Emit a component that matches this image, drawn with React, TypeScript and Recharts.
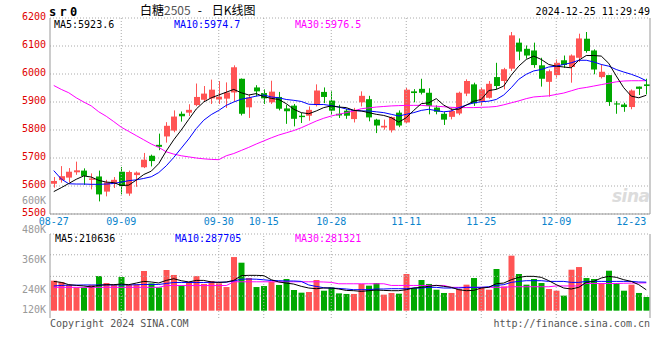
import React from 'react';
import { ComposedChart, Bar, Line, XAxis, YAxis, CartesianGrid, ReferenceLine, Cell } from 'recharts';

const dates = ['08-27','08-28','08-29','08-30','09-02','09-03','09-04','09-05','09-06','09-09','09-10','09-11','09-12','09-13','09-18','09-19','09-20','09-23','09-24','09-25','09-26','09-27','09-30','10-08','10-09','10-10','10-11','10-14','10-15','10-16','10-17','10-18','10-21','10-22','10-23','10-24','10-25','10-28','10-29','10-30','10-31','11-01','11-04','11-05','11-06','11-07','11-08','11-11','11-12','11-13','11-14','11-15','11-18','11-19','11-20','11-21','11-22','11-25','11-26','11-27','11-28','11-29','12-02','12-03','12-04','12-05','12-06','12-09','12-10','12-11','12-12','12-13','12-16','12-17','12-18','12-19','12-20','12-23','12-24','12-25'];

const opens = [5608,5621,5630,5649,5655,5622,5634,5580,5608,5651,5573,5639,5667,5708,5747,5777,5798,5858,5862,5889,5908,5913,5909,5912,5934,5983,5881,5952,5932,5899,5918,5877,5887,5851,5851,5889,5936,5905,5858,5869,5839,5899,5910,5837,5809,5799,5862,5827,5938,5947,5933,5880,5858,5847,5859,5930,5963,5903,5915,5989,5975,6019,6112,6090,6084,6031,5972,5996,6049,6025,6058,6126,6084,5989,5996,5895,5891,5882,5955,5963];
const highs = [5632,5671,5664,5687,5663,5645,5655,5622,5632,5668,5655,5652,5718,5712,5787,5828,5870,5866,5892,5966,5957,5980,5975,5970,6031,5984,5926,5960,5945,5976,5936,5890,5893,5861,5884,5963,5952,5938,5890,5876,5879,5938,5922,5840,5837,5848,5870,5950,5946,5983,5949,5888,5864,5880,5937,5981,5969,5951,5975,6040,6022,6150,6127,6102,6112,6058,6016,6052,6066,6070,6144,6150,6088,6034,5996,5903,5897,5945,5955,5983];
const lows = [5594,5612,5614,5640,5604,5588,5545,5563,5593,5570,5565,5597,5664,5670,5728,5755,5792,5830,5850,5885,5900,5893,5893,5879,5902,5852,5843,5920,5893,5893,5870,5822,5813,5825,5833,5884,5896,5855,5843,5840,5827,5884,5831,5789,5801,5791,5810,5825,5899,5927,5856,5856,5818,5838,5853,5921,5886,5888,5912,5945,5945,6011,6049,6055,6022,5955,5919,5987,6022,5969,6043,6076,5999,5984,5886,5858,5865,5874,5925,5927];
const closes = [5618,5635,5651,5656,5636,5627,5570,5613,5622,5600,5650,5648,5694,5689,5740,5815,5848,5849,5872,5918,5930,5944,5919,5934,6024,5858,5916,5938,5913,5937,5876,5867,5840,5846,5872,5941,5918,5869,5852,5851,5872,5922,5845,5816,5815,5846,5816,5944,5932,5933,5886,5865,5837,5868,5933,5975,5895,5945,5965,5957,6017,6138,6080,6066,6032,5983,6010,6040,6032,6066,6127,6082,6016,6008,5900,5891,5882,5941,5947,5957];

const ma5 = [5580,5594,5609,5624,5636,5632,5620,5614,5612,5602,5603,5621,5641,5653,5680,5725,5765,5800,5838,5875,5900,5915,5925,5935,5945,5933,5925,5930,5919,5913,5909,5894,5874,5862,5858,5868,5880,5886,5882,5880,5870,5868,5862,5856,5852,5844,5828,5844,5870,5894,5897,5912,5889,5874,5874,5889,5903,5909,5941,5945,5957,5996,6028,6052,6064,6052,6034,6028,6025,6022,6049,6066,6066,6064,6038,5993,5951,5921,5915,5924];
const ma10 = [5655,5625,5608,5607,5607,5606,5606,5607,5609,5614,5619,5622,5627,5633,5648,5672,5702,5735,5768,5805,5835,5855,5870,5888,5900,5910,5915,5921,5925,5918,5915,5909,5906,5902,5892,5891,5891,5887,5882,5875,5870,5868,5868,5865,5862,5856,5850,5856,5862,5870,5874,5869,5865,5868,5880,5889,5897,5901,5903,5909,5925,5951,5981,5999,6011,6016,6025,6028,6034,6040,6049,6049,6043,6034,6028,6016,6007,5999,5989,5976];
const ma30 = [5959,5945,5933,5915,5900,5886,5865,5849,5830,5810,5795,5780,5765,5750,5738,5722,5714,5708,5704,5700,5697,5695,5694,5708,5716,5727,5738,5750,5761,5772,5782,5790,5798,5808,5820,5832,5842,5850,5856,5862,5868,5876,5879,5882,5884,5886,5887,5888,5888,5888,5886,5885,5883,5881,5880,5880,5880,5881,5882,5884,5890,5897,5904,5912,5918,5920,5922,5927,5932,5940,5948,5952,5957,5962,5967,5972,5975,5976,5976,5976];

const volumes = [303000,290000,260000,235000,235000,260000,350000,280000,260000,340000,260000,266000,401000,276000,235000,411000,361000,253000,293000,350000,270000,300000,276000,239000,542000,485000,330000,239000,249000,293000,260000,320000,209000,182000,189000,310000,202000,235000,175000,169000,169000,270000,253000,280000,162000,179000,172000,371000,229000,310000,270000,212000,179000,179000,219000,263000,330000,229000,212000,421000,245000,556000,371000,263000,320000,280000,219000,202000,152000,414000,441000,330000,320000,280000,404000,280000,202000,263000,179000,138000];
const volMa5 = [296000,286000,263000,256000,250000,240000,256000,263000,263000,269000,263000,279000,296000,290000,280000,306000,323000,303000,290000,306000,306000,290000,286000,290000,306000,354000,357000,357000,354000,313000,290000,279000,269000,246000,229000,222000,229000,229000,219000,205000,202000,195000,202000,209000,205000,202000,202000,212000,229000,236000,246000,256000,246000,236000,212000,202000,205000,229000,236000,273000,279000,313000,337000,347000,347000,337000,303000,263000,229000,219000,236000,286000,296000,330000,347000,337000,313000,296000,263000,211000];
const volMa10 = [250000,255000,258000,258000,260000,260000,260000,260000,260000,260000,260000,262000,265000,265000,265000,275000,285000,285000,285000,285000,285000,287000,287000,288000,300000,318000,320000,318000,312000,305000,303000,300000,300000,296000,260000,245000,232000,228000,225000,219000,212000,212000,212000,219000,219000,222000,222000,222000,229000,229000,236000,236000,229000,229000,229000,236000,236000,236000,242000,256000,263000,286000,296000,303000,303000,303000,296000,296000,296000,286000,286000,296000,296000,296000,296000,296000,296000,296000,290000,288000];
const volMa30 = [236000,236000,236000,236000,236000,236000,236000,236000,236000,236000,236000,236000,236000,236000,236000,254000,254000,254000,254000,254000,254000,254000,254000,254000,292000,292000,292000,292000,292000,292000,292000,292000,292000,292000,292000,292000,290000,286000,272000,272000,272000,272000,272000,272000,272000,255000,255000,255000,255000,255000,255000,255000,255000,236000,236000,236000,236000,236000,236000,236000,236000,242000,242000,242000,242000,242000,242000,250000,250000,250000,250000,275000,275000,275000,275000,275000,277000,279000,280000,281000];

const priceTicks = [5500, 5600, 5700, 5800, 5900, 6000, 6100, 6200];
const dateTicks = ['08-27','09-09','09-30','10-15','10-28','11-11','11-25','12-09','12-23'];
const gridDates = ['09-09','09-30','10-15','10-28','11-11','11-25','12-09'];
const volTickValues = [775000, 472000, 169000, -38000];
const volTickLabels = ['480K', '360K', '240K', '120K'];
const volGridValues = [775000, 565000, 347000, 148000];

const RED = '#ff5454';
const GREEN = '#00a800';
const DATE_BLUE = '#0a84cc';
const GRID = '#aaaaaa';
const BORDER = '#999999';
const MONO = '"DejaVu Sans Mono", monospace';

const data = dates.map((d, i) => ({
  date: d,
  open: opens[i],
  high: highs[i],
  low: lows[i],
  close: closes[i],
  range: [lows[i], highs[i]],
  ma5: ma5[i],
  ma10: ma10[i],
  ma30: ma30[i],
  vol: volumes[i],
  vma5: volMa5[i],
  vma10: volMa10[i],
  vma30: volMa30[i],
}));

const Candle = (props: any) => {
  const { x, y, width, height, payload } = props;
  if (!payload) return null;
  const { open, close, high, low } = payload;
  const up = close >= open;
  const color = up ? RED : GREEN;
  const top0 = Math.min(y, y + height);
  const h = Math.abs(height);
  const span = high - low || 1;
  const yOf = (v: number) => top0 + ((high - v) / span) * h;
  const bt = yOf(Math.max(open, close));
  const bb = yOf(Math.min(open, close));
  const cx = Math.floor(x + width / 2) + 0.5;
  const rx = Math.round(x);
  return (
    <g>
      <line x1={cx} x2={cx} y1={top0} y2={top0 + h} stroke={color} strokeWidth={1} />
      <rect x={rx} y={bt} width={Math.round(width)} height={Math.max(1, bb - bt)} fill={color} />
    </g>
  );
};

const Txt = ({ x, y, color = '#000', size = 10, children, align = 'left', family = MONO, weight = 400, spacing = 0 }: any) => (
  <div
    style={{
      position: 'absolute',
      left: align === 'left' ? x : undefined,
      right: align === 'right' ? 660 - x : undefined,
      top: y,
      color,
      fontSize: size,
      lineHeight: `${size}px`,
      fontFamily: family,
      fontWeight: weight,
      letterSpacing: spacing,
      whiteSpace: 'nowrap',
    }}
  >
    {children}
  </div>
);

const VolTick = (p: any) => (
  <text x={p.x} y={p.y - 4} textAnchor="end" dominantBaseline="middle" fill="#999" fontSize={10} fontFamily={MONO}>
    {volTickLabels[p.index]}
  </text>
);

export default function App() {
  return (
    <div style={{ position: 'absolute', left: 0, top: 0, width: 660, height: 360, background: '#fff', overflow: 'hidden' }}>
      <div style={{ position: 'absolute', left: 0, top: 0 }}>
        <ComposedChart width={660} height={230} data={data} margin={{ top: 18, right: 0, bottom: 0, left: 0 }}>
          <CartesianGrid horizontal vertical={false} stroke={GRID} strokeDasharray="1 2" />
          <XAxis
            dataKey="date"
            ticks={dateTicks}
            interval={0}
            height={16}
            tickLine={false}
            tickSize={0}
            tickMargin={4}
            axisLine={{ stroke: BORDER }}
            tick={{ fill: DATE_BLUE, fontSize: 10, fontFamily: MONO }}
          />
          <YAxis
            domain={[5500, 6200]}
            ticks={priceTicks}
            interval={0}
            width={50}
            tickLine={false}
            tickSize={0}
            tickMargin={4}
            allowDataOverflow
            axisLine={{ stroke: BORDER }}
            tick={{ fill: '#e00000', fontSize: 10, fontFamily: MONO, dy: -2 }}
          />
          <YAxis yAxisId="r" orientation="right" domain={[5500, 6200]} width={10} tick={false} tickLine={false} axisLine={{ stroke: BORDER }} />
          {gridDates.map((d) => (
            <ReferenceLine key={d} x={d} stroke={GRID} strokeDasharray="1 2" />
          ))}
          <Bar dataKey="range" barSize={6} shape={(p: any) => <Candle {...p} />} isAnimationActive={false} />
          <Line type="linear" dataKey="ma30" stroke="#ff00ff" strokeWidth={1} dot={false} isAnimationActive={false} />
          <Line type="linear" dataKey="ma10" stroke="#0000ff" strokeWidth={1} dot={false} isAnimationActive={false} />
          <Line type="linear" dataKey="ma5" stroke="#000000" strokeWidth={1} dot={false} isAnimationActive={false} />
        </ComposedChart>
      </div>

      <div style={{ position: 'absolute', left: 0, top: 218 }}>
        <ComposedChart width={660} height={100} data={data} margin={{ top: 16, right: 0, bottom: 0, left: 0 }}>
          <XAxis dataKey="date" height={0} tick={false} tickLine={false} axisLine={{ stroke: BORDER }} />
          <YAxis
            domain={[-74000, 775000]}
            ticks={volTickValues}
            interval={0}
            width={50}
            tickLine={false}
            tickSize={0}
            tickMargin={4}
            allowDataOverflow
            axisLine={{ stroke: BORDER }}
            tick={(p: any) => <VolTick {...p} />}
          />
          <YAxis yAxisId="r" orientation="right" domain={[-74000, 775000]} width={10} tick={false} tickLine={false} axisLine={{ stroke: BORDER }} />
          {volGridValues.map((v) => (
            <ReferenceLine key={v} y={v} stroke={GRID} strokeDasharray="1 2" />
          ))}
          {gridDates.map((d) => (
            <ReferenceLine key={d} x={d} stroke={GRID} strokeDasharray="1 2" />
          ))}
          <Bar dataKey="vol" barSize={6} isAnimationActive={false}>
            {data.map((d, i) => (
              <Cell key={i} fill={d.close >= d.open ? RED : GREEN} />
            ))}
          </Bar>
          <Line type="linear" dataKey="vma30" stroke="#ff00ff" strokeWidth={1} dot={false} isAnimationActive={false} />
          <Line type="linear" dataKey="vma10" stroke="#0000ff" strokeWidth={1} dot={false} isAnimationActive={false} />
          <Line type="linear" dataKey="vma5" stroke="#000000" strokeWidth={1} dot={false} isAnimationActive={false} />
        </ComposedChart>
      </div>

      <Txt x={49} y={6} size={12} weight={700} spacing={3.3}>sr0</Txt>
      <div style={{ position: 'absolute', left: 140, top: 3, fontSize: 12, lineHeight: '14px', fontFamily: '"Noto Sans CJK SC", sans-serif', whiteSpace: 'nowrap', color: '#000' }}>
        白糖<span style={{ color: '#555' }}>2505</span>
        <span style={{ display: 'inline-block', width: 7 }} />-
        <span style={{ display: 'inline-block', width: 10 }} />日K线图
      </div>
      <Txt x={650} y={7} align="right">2024-12-25 11:29:49</Txt>

      <Txt x={54} y={19.5}>MA5:5923.6</Txt>
      <Txt x={174} y={19.5} color="#0000ff">MA10:5974.7</Txt>
      <Txt x={295} y={19.5} color="#ff00ff">MA30:5976.5</Txt>

      <Txt x={46} y={196} color="#999" align="right">600K</Txt>

      <Txt x={55} y={234}>MA5:210636</Txt>
      <Txt x={175} y={234} color="#0000ff">MA10:287705</Txt>
      <Txt x={295} y={234} color="#ff00ff">MA30:281321</Txt>

      <div style={{ position: 'absolute', left: 612, top: 186, fontSize: 17, lineHeight: '20px', fontFamily: '"DejaVu Sans", sans-serif', fontStyle: 'italic', fontWeight: 700, color: '#dcdcdc', letterSpacing: -0.5 }}>
        sina
      </div>

      <Txt x={50} y={319} color="#555">Copyright 2024 SINA.COM</Txt>
      <Txt x={650} y={319} color="#555" align="right">http://finance.sina.com.cn</Txt>
    </div>
  );
}
